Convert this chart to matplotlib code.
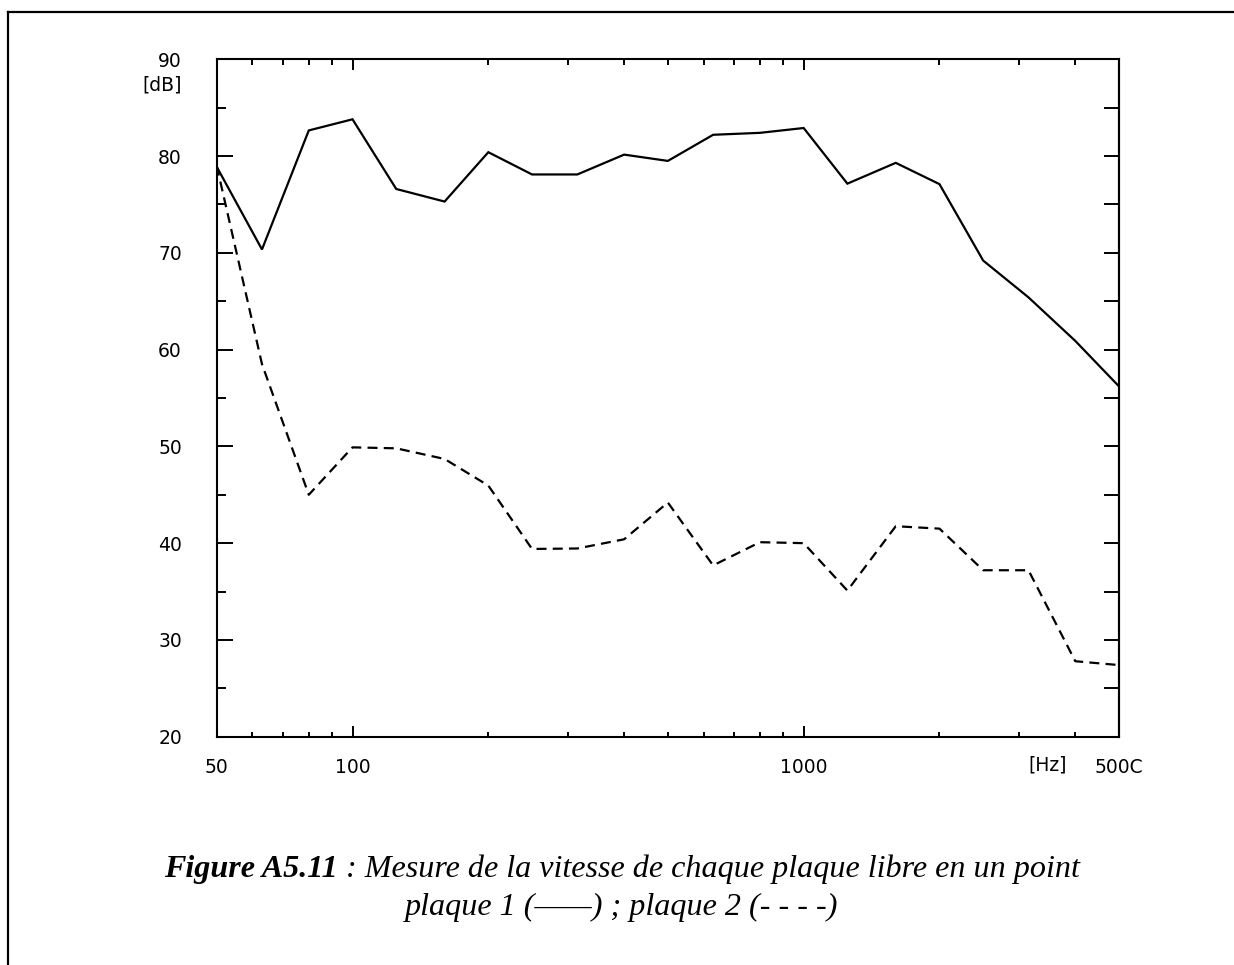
import matplotlib
matplotlib.use("Agg")
import matplotlib.pyplot as plt
from matplotlib.lines import Line2D
from matplotlib.ticker import FixedLocator, FixedFormatter, NullFormatter

# ---- data ----
freqs = [50, 63, 80, 100, 125, 160, 200, 250, 315, 400, 500, 630, 800,
         1000, 1250, 1600, 2000, 2500, 3150, 4000, 5000]
plaque1 = [78.9, 70.35, 82.65, 83.8, 76.6, 75.3, 80.4, 78.1, 78.1, 80.15, 79.5,
           82.2, 82.4, 82.9, 77.15, 79.3, 77.1, 69.2, 65.4, 60.9, 56.2]
plaque2 = [79.0, 58.5, 45.0, 49.9, 49.8, 48.7, 45.95, 39.4, 39.45, 40.4, 44.2,
           37.7, 40.1, 40.0, 35.1, 41.75, 41.5, 37.2, 37.2, 27.8, 27.4]

x_major = [50, 100, 1000, 5000]
x_major_labels = ["50", "100", "1000", "500C"]
x_minor = [60, 70, 80, 90, 200, 300, 400, 500, 600, 700, 800, 900,
           2000, 3000, 4000]
y_major = [20, 30, 40, 50, 60, 70, 80, 90]
y_minor = [25, 35, 45, 55, 65, 75, 85]

caption_bold = "Figure A5.11"
caption_rest = " : Mesure de la vitesse de chaque plaque libre en un point"
caption_line2 = "plaque 1 (——) ; plaque 2 (- - - -)"

W, H, DPI = 1234, 965, 100
fig = plt.figure(figsize=(W / DPI, H / DPI), dpi=DPI)

# axes placement in pixels
L, R, T, B = 216.7, 1119.0, 59.3, 736.7
ax = fig.add_axes([L / W, 1 - B / H, (R - L) / W, (B - T) / H])

ax.set_xscale("log")
ax.set_xlim(50, 5000)
ax.set_ylim(20, 90)

ax.plot(freqs, plaque1, color="black", lw=1.6, solid_joinstyle="miter")
ax.plot(freqs, plaque2, color="black", lw=1.6, linestyle=(0, (4.5, 2.8)))

TS = 13.5
tick_font = dict(family="DejaVu Sans", size=TS)

# x ticks (bottom labelled, top mirrored)
ax.xaxis.set_major_locator(FixedLocator(x_major))
ax.xaxis.set_major_formatter(FixedFormatter(x_major_labels))
ax.xaxis.set_minor_locator(FixedLocator(x_minor))
ax.xaxis.set_minor_formatter(NullFormatter())
ax.tick_params(axis="x", which="major", direction="in", length=11.5 * 0.72,
               width=1.4, top=True, bottom=True, pad=15.0, labelsize=TS)
ax.tick_params(axis="x", which="minor", direction="in", length=5.5 * 0.72,
               width=1.4, top=True, bottom=True)

# y ticks
ax.yaxis.set_major_locator(FixedLocator(y_major))
ax.yaxis.set_minor_locator(FixedLocator(y_minor))
ax.yaxis.set_minor_formatter(NullFormatter())
ax.tick_params(axis="y", which="major", direction="in", length=16 * 0.72,
               width=1.4, left=True, right=False, pad=25, labelsize=TS)
ax.tick_params(axis="y", which="minor", direction="in", length=9 * 0.72,
               width=1.4, left=True, right=False)

# right side ticks: all same length
axr = ax.secondary_yaxis("right")
axr.yaxis.set_major_locator(FixedLocator(y_major + y_minor))
axr.tick_params(axis="y", which="major", direction="in", length=15 * 0.72,
                width=1.4, labelright=False)
axr.spines["right"].set_linewidth(1.5)

for lab in ax.get_xticklabels() + ax.get_yticklabels():
    lab.set_family("DejaVu Sans")

for s in ax.spines.values():
    s.set_linewidth(1.5)

# unit labels
ax.text(-34.7 / (R - L), (90 - 20) / 70 - 26.0 / (B - T), "[dB]",
        transform=ax.transAxes, ha="right", va="center", **tick_font)
ax.text((1048 - L) / (R - L), -28.3 / (B - T), "[Hz]",
        transform=ax.transAxes, ha="center", va="center", **tick_font)

# outer frame (top and left border lines)
fig.add_artist(Line2D([7.5 / W, 1.0], [1 - 12 / H, 1 - 12 / H],
                      transform=fig.transFigure, color="black", lw=1.6))
fig.add_artist(Line2D([7.5 / W, 7.5 / W], [0.0, 1 - 12 / H],
                      transform=fig.transFigure, color="black", lw=1.6))

# caption
cap_size = 23.15
cx = 622 / W
y1 = 1 - 876.7 / H
y2 = 1 - 915.0 / H
fig.canvas.draw()
renderer = fig.canvas.get_renderer()
tb = fig.text(0, y1, caption_bold, family="Liberation Serif", style="italic",
              weight="bold", size=cap_size, va="baseline", ha="left")
tr = fig.text(0, y1, caption_rest, family="Liberation Serif", style="italic",
              size=cap_size, va="baseline", ha="left")
wb = tb.get_window_extent(renderer).width
wr = tr.get_window_extent(renderer).width
x0 = cx * W - (wb + wr) / 2
tb.set_x(x0 / W)
tr.set_x((x0 + wb) / W)
fig.text(cx, y2, caption_line2, family="Liberation Serif", style="italic",
         size=cap_size, va="baseline", ha="center")

fig.savefig("out.png", dpi=DPI)
